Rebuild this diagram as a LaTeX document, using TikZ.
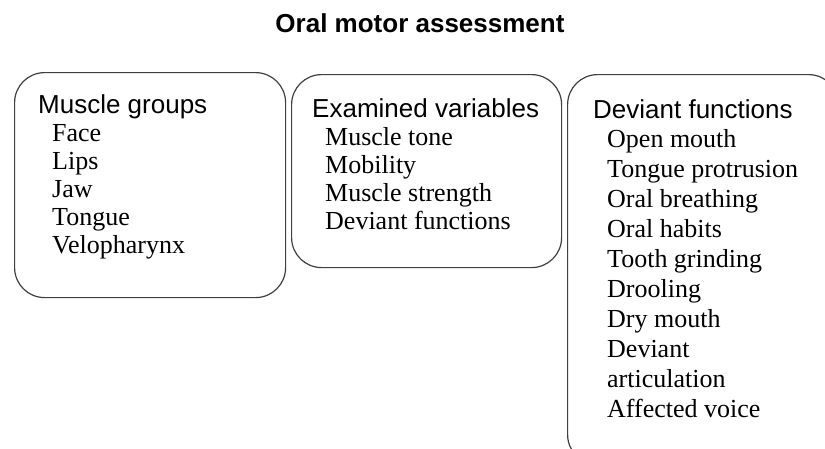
\documentclass[tikz,border=0pt]{standalone}
\usepackage{fontspec}
\setmainfont{Liberation Serif}
\setsansfont{Liberation Sans}
\usetikzlibrary{positioning}

\begin{document}
\begin{tikzpicture}[
        x=1pt, y=-1pt,
        box/.style = {draw=black!75, line width=1.2pt, rounded corners=30pt,
                anchor=north west, inner sep=0pt},
        heading/.style = {font=\fontsize{26}{28}\selectfont\sffamily, anchor=base west, inner sep=0pt},
        entry/.style = {font=\fontsize{26}{28}\selectfont\rmfamily, anchor=base west, inner sep=0pt}
    ]
    \path[use as bounding box, clip] (0,0) rectangle (825,448);
    \node[font=\fontsize{26}{28}\selectfont\sffamily\bfseries, anchor=base, inner sep=0pt]
        (Title) at (420,32) {Oral motor assessment};

    % the three boxes
    \node[box, minimum width=271pt, minimum height=225pt] (Groups) at (14,72) {};
    \node[box, minimum width=270pt, minimum height=193pt] (Variables) at (291,74) {};
    \node[box, minimum width=271pt, minimum height=390pt] (Functions) at (567,74) {};

    % muscle groups
    \node[heading] (GroupsHead) at (38,113) {Muscle groups};
    \foreach \txt [count=\i] in {Face, Lips, Jaw, Tongue, Velopharynx}
        \node[entry] (g\i) at (52,{141+28*(\i-1)}) {\txt};

    % examined variables
    \node[heading] (VariablesHead) at (312,117) {Examined variables};
    \foreach \txt [count=\i] in {Muscle tone, Mobility, Muscle strength, Deviant functions}
        \node[entry] (v\i) at (325,{145+28*(\i-1)}) {\txt};

    % deviant functions
    \node[heading] (FunctionsHead) at (593,118) {Deviant functions};
    \foreach \txt [count=\i] in {Open mouth, Tongue protrusion, Oral breathing, Oral habits,
            Tooth grinding, Drooling, Dry mouth, Deviant, articulation, Affected voice}
        \node[entry] (f\i) at (607,{147+30*(\i-1)}) {\txt};
\end{tikzpicture}
\end{document}
